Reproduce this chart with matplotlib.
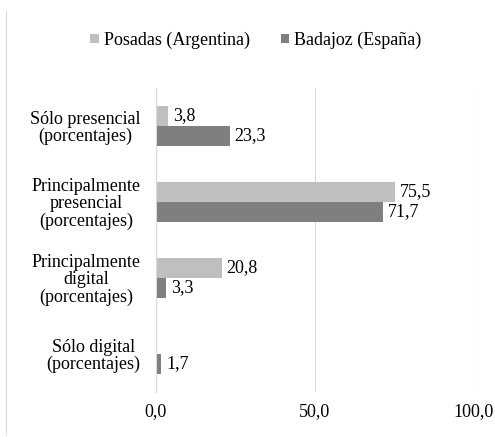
import matplotlib.pyplot as plt
from matplotlib.lines import Line2D
import numpy as np

categories = ["Sólo presencial\n(porcentajes)",
              "Principalmente\npresencial\n(porcentajes)",
              "Principalmente\ndigital\n(porcentajes)",
              "Sólo digital\n(porcentajes)"]
posadas = [3.8, 75.5, 20.8, np.nan]
badajoz = [23.3, 71.7, 3.3, 1.7]
series_names = ["Posadas (Argentina)", "Badajoz (España)"]
xticks = [0, 50, 100]

plt.rcParams['font.family'] = ['Liberation Serif', 'DejaVu Serif']

light = '#BFBFBF'
dark = '#7F7F7F'
fs = 13

fig = plt.figure(figsize=(4.95, 4.37), dpi=100)
ax = fig.add_axes([0.315, 0.103, 0.641, 0.696])

index = np.arange(len(categories))
h = 0.265
r1 = ax.barh(index - h/2, posadas, h, color=light, label=series_names[0])
r2 = ax.barh(index + h/2, badajoz, h, color=dark, label=series_names[1])

def autolabel(rects, vals):
    for rect, v in zip(rects, vals):
        if np.isnan(v):
            continue
        ax.text(rect.get_width() + 1.5, rect.get_y() + rect.get_height()/2,
                ('%.1f' % v).replace('.', ','), ha='left', va='center', fontsize=fs)

autolabel(r1, posadas)
autolabel(r2, badajoz)

ax.set_xlim(0, 100)
ax.set_ylim(3.5, -0.5)
ax.set_yticks(index)
ax.set_yticklabels(categories, fontsize=fs, linespacing=1.0, ha='right', multialignment='center')
ax.set_xticks(xticks)
ax.set_xticklabels([('%.1f' % t).replace('.', ',') for t in xticks], fontsize=fs)
ax.tick_params(length=0)
ax.tick_params(axis='x', pad=8)
ax.tick_params(axis='y', pad=11)
ax.grid(axis='x', color='#D9D9D9', linewidth=0.8)
ax.set_axisbelow(True)
for s in ['top', 'right', 'bottom']:
    ax.spines[s].set_visible(False)
ax.spines['left'].set_color('#D9D9D9')

fig.legend(handles=[r1, r2], loc='center', bbox_to_anchor=(0.517, 0.908), ncol=2,
           frameon=False, fontsize=fs, handlelength=0.45, handleheight=0.45,
           handletextpad=0.3, columnspacing=1.7)

fig.add_artist(Line2D([0.012, 0.012], [0.008, 0.975], color='#D9D9D9', linewidth=0.8))

plt.savefig("out.png", dpi=100)
